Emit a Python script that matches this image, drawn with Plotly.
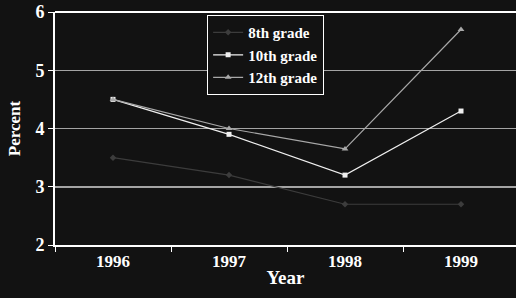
import plotly.graph_objects as go

years = [1996, 1997, 1998, 1999]
year_labels = ["1996", "1997", "1998", "1999"]
grade8 = [3.5, 3.2, 2.7, 2.7]
grade10 = [4.5, 3.9, 3.2, 4.3]
grade12 = [4.5, 4.0, 3.65, 5.7]
y_ticks = [2, 3, 4, 5, 6]

BG = "#121212"
FONT = "Liberation Serif"

boundaries = [y - 0.5 for y in years]

fig = go.Figure()
fig.add_trace(go.Scatter(x=years, y=grade8, name="8th grade", mode="lines+markers",
                         line=dict(color="#3c3c3c", width=1.2),
                         marker=dict(symbol="diamond", size=5, color="#3c3c3c")))
fig.add_trace(go.Scatter(x=years, y=grade10, name="10th grade", mode="lines+markers",
                         line=dict(color="#f0f0f0", width=1.2),
                         marker=dict(symbol="square", size=5, color="#f0f0f0")))
fig.add_trace(go.Scatter(x=years, y=grade12, name="12th grade", mode="lines+markers",
                         line=dict(color="#a8a8a8", width=1.2),
                         marker=dict(symbol="triangle-up", size=6, color="#a8a8a8")))

# top frame line of the plot area
fig.add_shape(type="line", xref="paper", yref="paper", x0=0, x1=1, y0=1, y1=1,
              line=dict(color="white", width=2), layer="above")

fig.update_layout(
    width=516, height=298,
    margin=dict(l=55, r=0, t=12, b=53),
    paper_bgcolor=BG, plot_bgcolor=BG,
    font=dict(family=FONT, color="white", size=16, weight="bold"),
    showlegend=True,
    legend=dict(x=0.33, y=0.987, xanchor="left", yanchor="top",
                bgcolor=BG, bordercolor="white", borderwidth=1,
                font=dict(family=FONT, size=15, color="white", weight="bold"),
                tracegroupgap=0, itemwidth=30),
    xaxis=dict(range=[years[0] - 0.5, years[-1] + 0.474], showgrid=False, automargin=False,
               zeroline=False,
               showline=True, linecolor="white", linewidth=2, mirror=False,
               tickvals=years, ticktext=year_labels, ticks="",
               minor=dict(tickvals=boundaries, ticks="outside", ticklen=5,
                          tickcolor="white", showgrid=False),
               tickfont=dict(family=FONT, size=17, color="white", weight="bold"),
               title=dict(text="Year", standoff=0,
                          font=dict(family=FONT, size=19, color="white", weight="bold"))),
    yaxis=dict(range=[2, 6], tickvals=y_ticks, showgrid=True, gridcolor="#a4a4a4", gridwidth=1.5,
               automargin=False, mirror=False,
               showline=True, linecolor="white", linewidth=2, zeroline=False,
               ticks="outside", tickcolor="white", ticklen=5,
               tickfont=dict(family=FONT, size=18, color="white", weight="bold"),
               title=dict(text="Percent", standoff=10,
                          font=dict(family=FONT, size=17, color="white", weight="bold"))),
)

fig.write_html("out.html", config={"displayModeBar": False, "staticPlot": True},
               post_script=("document.body.style.margin='0';"
                            "document.body.style.overflow='hidden';"
                            "document.body.style.background='#121212';"
                            "document.documentElement.style.background='#121212';"))
